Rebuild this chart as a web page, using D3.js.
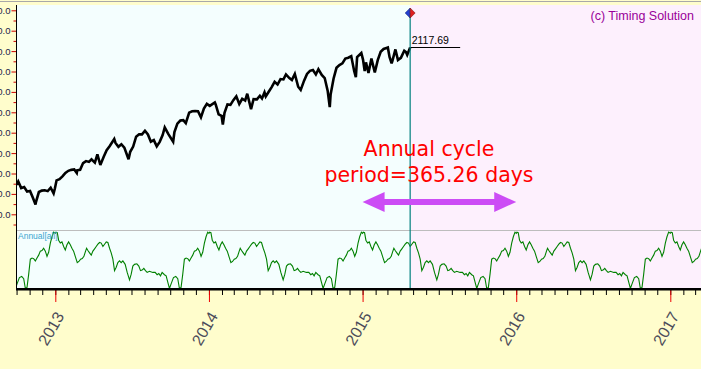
<!DOCTYPE html>
<html><head><meta charset="utf-8">
<script src="https://cdn.jsdelivr.net/npm/d3@7"></script>
<style>
html,body{margin:0;padding:0;background:#fffdcc;overflow:hidden}
svg{display:block}
</style></head><body>
<svg id="chart" width="701" height="369"></svg>
<script>
// ---- data ----
const priceDates = ["2012-10-01","2012-10-05","2012-10-12","2012-10-19","2012-10-26","2012-11-02","2012-11-09","2012-11-15","2012-11-16","2012-11-23","2012-11-30","2012-12-07","2012-12-14","2012-12-21","2012-12-28","2012-12-31",
"2013-01-04","2013-01-11","2013-01-18","2013-01-25","2013-02-01","2013-02-08","2013-02-15","2013-02-21","2013-02-22","2013-03-01","2013-03-08","2013-03-15","2013-03-22","2013-03-28","2013-04-05","2013-04-11","2013-04-18","2013-04-26","2013-05-03","2013-05-10","2013-05-21","2013-05-24","2013-05-31","2013-06-07","2013-06-14","2013-06-24","2013-06-28","2013-07-05","2013-07-12","2013-07-19","2013-07-26","2013-08-02","2013-08-09","2013-08-16","2013-08-23","2013-08-30","2013-09-06","2013-09-13","2013-09-18","2013-09-27","2013-10-08","2013-10-11","2013-10-18","2013-10-25","2013-11-01","2013-11-07","2013-11-15","2013-11-22","2013-11-29","2013-12-06","2013-12-13","2013-12-20","2013-12-27",
"2014-01-03","2014-01-15","2014-01-17","2014-01-24","2014-01-31","2014-02-03","2014-02-07","2014-02-14","2014-02-21","2014-02-28","2014-03-07","2014-03-14","2014-03-21","2014-03-28","2014-04-02","2014-04-11","2014-04-17","2014-04-25","2014-05-02","2014-05-07","2014-05-13","2014-05-16","2014-05-23","2014-05-30","2014-06-06","2014-06-13","2014-06-20","2014-06-27","2014-07-03","2014-07-11","2014-07-17","2014-07-24","2014-08-01","2014-08-07","2014-08-15","2014-08-22","2014-08-29","2014-09-05","2014-09-12","2014-09-18","2014-09-26","2014-10-03","2014-10-10","2014-10-15","2014-10-17","2014-10-24","2014-10-31","2014-11-07","2014-11-14","2014-11-21","2014-11-28","2014-12-05","2014-12-12","2014-12-16","2014-12-19","2014-12-29",
"2015-01-02","2015-01-06","2015-01-09","2015-01-15","2015-01-22","2015-01-30","2015-02-06","2015-02-13","2015-02-20","2015-02-25","2015-03-02","2015-03-06","2015-03-11","2015-03-13","2015-03-20","2015-03-26","2015-04-02","2015-04-10","2015-04-14","2015-04-17","2015-04-24"];
const priceValues = [1444.5,1460.9,1428.6,1433.2,1411.9,1414.2,1379.9,1348.0,1359.9,1409.2,1416.2,1418.1,1413.6,1430.2,1402.4,1426.2,
1466.5,1472.1,1486.0,1503.0,1513.2,1517.9,1519.8,1502.4,1515.6,1518.2,1551.2,1560.7,1556.9,1569.2,1553.3,1593.4,1541.6,1582.2,1614.4,1633.7,1669.2,1649.6,1630.7,1643.4,1626.7,1570.0,1606.3,1631.9,1680.2,1692.1,1691.7,1709.7,1691.4,1655.8,1663.5,1633.0,1655.2,1688.0,1725.5,1691.8,1655.5,1703.2,1744.5,1759.8,1761.6,1747.2,1798.2,1804.8,1805.8,1805.1,1775.3,1818.3,1841.4,
1831.4,1848.4,1838.7,1790.3,1782.6,1740.0,1797.0,1838.6,1836.3,1859.5,1878.0,1841.1,1866.5,1857.6,1890.9,1815.7,1864.9,1863.4,1881.1,1867.7,1897.5,1877.9,1900.5,1923.6,1949.4,1936.2,1962.9,1961.0,1985.4,1967.6,1958.1,1988.0,1925.2,1909.6,1955.1,1988.4,2003.4,2007.7,1985.5,2011.4,1982.9,1967.9,1906.1,1825.0,1886.8,1964.6,2018.1,2031.9,2039.8,2063.5,2067.6,2075.4,2002.3,1972.7,2070.7,2090.6,
2058.2,2002.6,2044.8,1992.7,2063.2,1995.0,2055.5,2097.0,2110.3,2113.9,2117.4,2071.3,2040.2,2053.4,2108.1,2056.2,2067.0,2102.1,2095.8,2081.2,2117.69];
const yTickValues = [1300,1400,1500,1600,1700,1800,1900,2000,2100,2200,2300];
const yMinorValues = [1250,1350,1450,1550,1650,1750,1850,1950,2050,2150,2250];
const yearTicks = ["2013","2014","2015","2016","2017"];
const cycleDays = [0,1.6,4.7,7.9,11.9,15.8,19.8,23.7,27.7,31.6,35.6,39.5,43.5,47.4,52.2,56.1,60.1,64,68,71.9,74.3,77.5,81.4,85.4,89.3,93.3,97.2,101.2,105.2,109.1,113.1,117,121,124.9,128.9,132.8,136.8,140.7,144.7,148.6,152.6,156.5,160.5,166,170.8,176.3,180.3,184.2,188.2,193.7,198.4,202.4,206.3,210.3,214.2,218.2,223.7,231.6,237.2,241.9,245.9,249.8,253.8,259.3,263.3,267.2,271.2,275.1,280.7,286.2,290.9,294.9,298.8,302.8,306.7,310.7,314.6,318.6,322.5,326.5,330.4,334.4,338.3,342.3,346.3,350.2,354.2,358.1,362.1];
const cycleValues = [96,98,97,84,79,81,73,67,76,81,76,70,65,56,45,47,51,52,56,65,70,66,62,58,65,69,73,77,80,79,73,77,81,80,70,62,51,31,37,45,48,45,48,42,28,15,25,39,42,43,39,31,32,35,31,28,30,28,28,24,26,22,28,24,22,11,0,8,19,21,17,0,2,25,51,53,52,48,53,58,65,66,70,65,56,63,79,90,98];
const cycleYears = [2012,2013,2014,2015,2016,2017];
const lastDate = "2015-04-24";
const lastValue = 2117.69;
const annotationLines = ["Annual cycle","period=365.26 days"];
const arrowDates = ["2015-01-01","2016-01-01"];
const cycleLabel = "Annual[all]";
const copyright = "(c) Timing Solution";

// ---- layout ----
const W = 701, H = 369;
const plotL = 17, plotR = 701, plotT = 5, split = 230, plotB = 289;
const parse = d3.utcParse("%Y-%m-%d");
const svg = d3.select("#chart");

const x = d3.scaleUtc().domain([parse("2013-01-01"), parse("2017-01-01")]).range([55.3, 670.3]);
const y = d3.scaleLinear().domain([1300, 2300]).range([214.3, 10.3]);
const yc = d3.scaleLinear().domain([0, 100]).range([288.5, 231]);

const xLast = x(parse(lastDate));

// backgrounds
svg.append("rect").attr("x",0).attr("y",0).attr("width",W).attr("height",H).attr("fill","#fffdcc");
svg.append("line").attr("x1",0).attr("x2",W).attr("y1",1.5).attr("y2",1.5).attr("stroke","#a8a8a8").attr("stroke-width",1);
svg.append("rect").attr("x",plotL).attr("y",plotT).attr("width",xLast-plotL).attr("height",plotB-plotT).attr("fill","#f4fefe");
svg.append("rect").attr("x",xLast).attr("y",plotT).attr("width",plotR-xLast).attr("height",plotB-plotT).attr("fill","#fdf0fd");
svg.append("line").attr("x1",plotL).attr("x2",plotR).attr("y1",split+0.5).attr("y2",split+0.5).attr("stroke","#bdbdbd");

svg.append("clipPath").attr("id","clipTop").append("rect").attr("x",plotL).attr("y",plotT).attr("width",plotR-plotL).attr("height",split-plotT);
svg.append("clipPath").attr("id","clipBot").append("rect").attr("x",plotL).attr("y",split).attr("width",plotR-plotL).attr("height",plotB-split);

// cycle curve
const cyclePts = [];
cycleYears.forEach(yr => {
  cycleDays.forEach((d,i) => {
    cyclePts.push([new Date(Date.UTC(yr,0,1) + d*86400000), cycleValues[i]]);
  });
});
svg.append("path").attr("clip-path","url(#clipBot)")
  .attr("d", d3.line().x(p=>x(p[0])).y(p=>yc(p[1]))(cyclePts))
  .attr("fill","none").attr("stroke","#008000").attr("stroke-width",1.1);

svg.append("text").attr("x",18).attr("y",239).text(cycleLabel)
  .attr("font-family","Liberation Sans, Arial, sans-serif").attr("font-size",8.5).attr("fill","#3aa6d0");

// price line
const pricePts = priceDates.map((d,i)=>[parse(d), priceValues[i]]);
svg.append("path").attr("clip-path","url(#clipTop)")
  .attr("d", d3.line().x(p=>x(p[0])).y(p=>y(p[1]))(pricePts))
  .attr("fill","none").attr("stroke","#000").attr("stroke-width",2.6).attr("stroke-linejoin","miter").attr("stroke-miterlimit",3);

// last value label
svg.append("line").attr("x1",xLast).attr("x2",xLast+50).attr("y1",Math.round(y(lastValue))+0.5).attr("y2",Math.round(y(lastValue))+0.5).attr("stroke","#000");
svg.append("text").attr("x",xLast+1.5).attr("y",y(lastValue)-3.5).text(d3.format(".2f")(lastValue))
  .attr("font-family","Liberation Sans, Arial, sans-serif").attr("font-size",10.5).attr("fill","#000");

// vertical line & diamond
svg.append("line").attr("x1",xLast).attr("x2",xLast).attr("y1",13).attr("y2",plotB).attr("stroke","#008080").attr("stroke-width",1.2);
const dy0 = 13, dr = 5;
svg.append("path").attr("d",`M${xLast-dr},${dy0}L${xLast},${dy0-dr}L${xLast},${dy0+dr}Z`).attr("fill","#2340d0").attr("stroke","#1a2a80").attr("stroke-width",0.6);
svg.append("path").attr("d",`M${xLast+dr},${dy0}L${xLast},${dy0-dr}L${xLast},${dy0+dr}Z`).attr("fill","#e02020").attr("stroke","#801a1a").attr("stroke-width",0.6);

// copyright
svg.append("text").attr("x",694).attr("y",20).attr("text-anchor","end").text(copyright)
  .attr("font-family","Liberation Sans, Arial, sans-serif").attr("font-size",12.5).attr("fill","#990099");

// annotation
const ax = 429;
annotationLines.forEach((t,i)=>{
  svg.append("text").attr("x",ax).attr("y",156+i*25.5).attr("text-anchor","middle").text(t)
    .attr("font-family","DejaVu Sans, Verdana, sans-serif").attr("font-size",20.5).attr("fill","#ff0000");
});
const a1 = x(parse(arrowDates[0])), a2 = x(parse(arrowDates[1])), ay = 202, hl = 22, hh = 10, st = 3;
svg.append("path").attr("d",
  `M${a1},${ay}L${a1+hl},${ay-hh}L${a1+hl},${ay-st}L${a2-hl},${ay-st}L${a2-hl},${ay-hh}L${a2},${ay}L${a2-hl},${ay+hh}L${a2-hl},${ay+st}L${a1+hl},${ay+st}L${a1+hl},${ay+hh}Z`)
  .attr("fill","#cc4cf5");

// y axis
const yAxisG = svg.append("g").attr("transform",`translate(16.5,0)`)
  .call(d3.axisLeft(y).tickValues(yTickValues).tickSize(5).tickPadding(1).tickFormat(d3.format(".1f")));
yAxisG.select(".domain").remove();
yAxisG.selectAll(".tick line").attr("stroke","#cc0000");
yAxisG.selectAll(".tick text").attr("font-family","Liberation Sans, Arial, sans-serif").attr("font-size",9.5).attr("fill","#23234a");
const yMinorG = svg.append("g").attr("transform",`translate(16.5,0)`)
  .call(d3.axisLeft(y).tickValues(yMinorValues).tickSize(3).tickFormat(""));
yMinorG.select(".domain").remove();
yMinorG.selectAll(".tick line").attr("stroke","#cc0000");
svg.append("line").attr("x1",16.5).attr("x2",16.5).attr("y1",5).attr("y2",plotB+1).attr("stroke","#000").attr("stroke-width",1);

// x axis
const months = d3.utcMonths(x.invert(plotL-1), x.invert(plotR));
const xMinorG = svg.append("g").attr("transform",`translate(0,${plotB+1})`)
  .call(d3.axisBottom(x).tickValues(months).tickSize(5).tickFormat(""));
xMinorG.select(".domain").remove();
xMinorG.selectAll(".tick line").attr("stroke","#000");
const yearDates = yearTicks.map(t=>parse(t+"-01-01"));
const xMajorG = svg.append("g").attr("transform",`translate(0,${plotB+1})`)
  .call(d3.axisBottom(x).tickValues(yearDates).tickSize(12).tickFormat(d3.utcFormat("%Y")));
xMajorG.select(".domain").remove();
xMajorG.selectAll(".tick line").attr("stroke","#ee0000");
xMajorG.selectAll(".tick text").attr("x",0).attr("y",0).attr("dy",0)
  .attr("transform","translate(9,26) rotate(-60)").style("text-anchor","end")
  .attr("font-family","Liberation Sans, Arial, sans-serif").attr("font-size",16).attr("fill","#4c4c5a");
svg.append("rect").attr("x",plotL-1).attr("y",plotB-1).attr("width",plotR-plotL+1).attr("height",2.5).attr("fill","#000");
</script>
</body></html>
